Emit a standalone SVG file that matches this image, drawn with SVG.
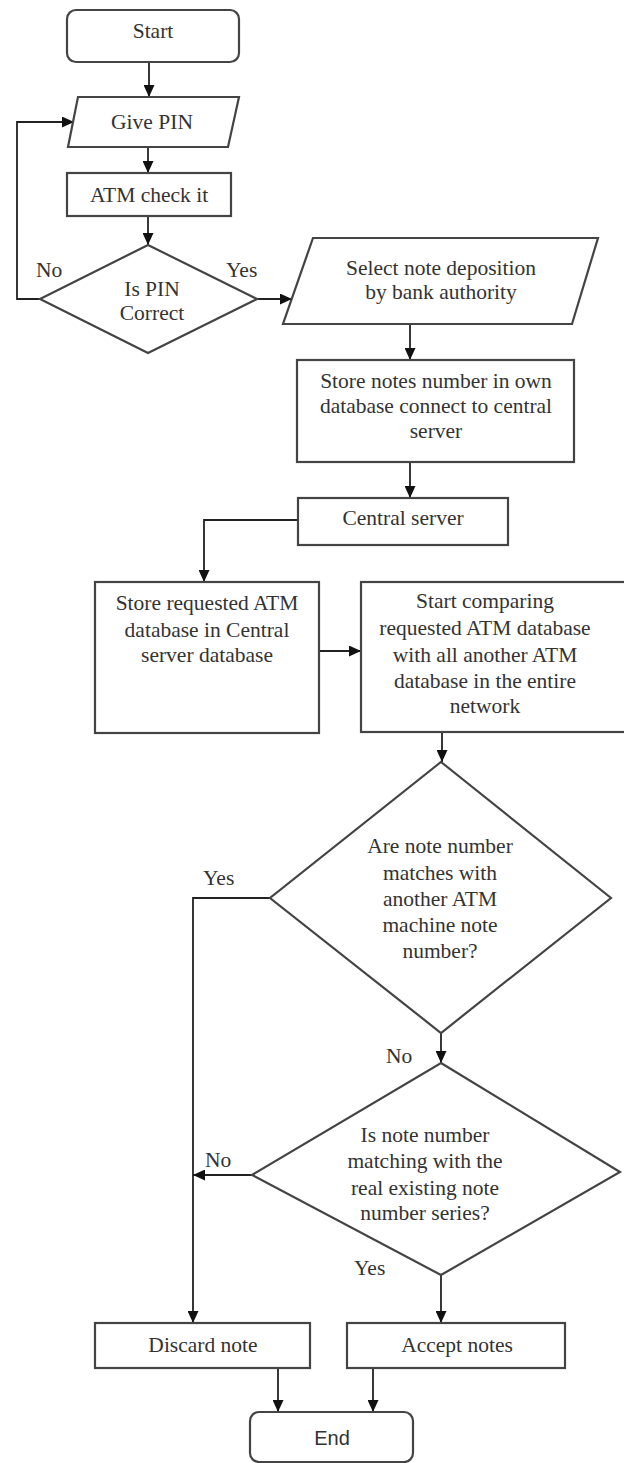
<svg xmlns="http://www.w3.org/2000/svg" width="624" height="1463" viewBox="0 0 624 1463">
  <defs>
    <marker id="arrow" markerUnits="userSpaceOnUse" markerWidth="13" markerHeight="11" refX="12" refY="5.5" orient="auto">
      <path d="M0,0 L12,5.5 L0,11 Z" fill="#111"/>
    </marker>
    <style>
      .shape { fill: #fff; stroke: #444; stroke-width: 2.2; }
      .edge { fill: none; stroke: #222; stroke-width: 1.8; }
      .arr { marker-end: url(#arrow); }
      .t { font-family: "Liberation Serif", "Times New Roman", serif; font-size: 21.5px; fill: #333; text-anchor: middle; }
      .lbl { font-family: "Liberation Serif", "Times New Roman", serif; font-size: 21.5px; fill: #333; }
      .sans { font-family: "Liberation Sans", Arial, sans-serif; font-size: 20px; fill: #333; text-anchor: middle; }
    </style>
  </defs>
  <rect width="624" height="1463" fill="#fff"/>

  <!-- connectors and their branch labels -->
  <g id="connectors">
    <path class="edge arr" d="M149,62 V97"/>
    <path class="edge arr" d="M148,147 V173"/>
    <path class="edge arr" d="M148,216 V245"/>
    <path class="edge arr" d="M40,299 H17 V122 H74"/>
    <path class="edge arr" d="M257,299 H292"/>
    <path class="edge arr" d="M410,324 V360"/>
    <path class="edge arr" d="M410,462 V498"/>
    <path class="edge arr" d="M298,520 H204 V582"/>
    <path class="edge arr" d="M319,651 H361"/>
    <path class="edge arr" d="M442,732 V762"/>
    <path class="edge arr" d="M270,898 H193 V1323"/>
    <path class="edge arr" d="M441,1033 V1063"/>
    <path class="edge arr" d="M252,1175 H193"/>
    <path class="edge arr" d="M441,1275 V1323"/>
    <path class="edge arr" d="M278,1368 V1412"/>
    <path class="edge arr" d="M373,1368 V1412"/>
    <text class="lbl" x="36" y="277">No</text>
    <text class="lbl" x="226" y="277">Yes</text>
    <text class="lbl" x="203" y="885">Yes</text>
    <text class="lbl" x="386" y="1063">No</text>
    <text class="lbl" x="205" y="1167">No</text>
    <text class="lbl" x="354" y="1275">Yes</text>
  </g>

  <g id="start">
    <rect class="shape" x="67" y="10" width="172" height="52" rx="9"/>
    <text class="t" x="153" y="38">Start</text>
  </g>

  <g id="give-pin">
    <polygon class="shape" points="78,97 239,97 228,147 68,147"/>
    <text class="t" x="152" y="129">Give PIN</text>
  </g>

  <g id="atm-check">
    <rect class="shape" x="67" y="173" width="164" height="43"/>
    <text class="t" x="149" y="202">ATM check it</text>
  </g>

  <g id="pin-correct">
    <polygon class="shape" points="148,245 257,299 148,353 40,299"/>
    <text class="t" x="152" y="296">Is PIN</text>
    <text class="t" x="152" y="320">Correct</text>
  </g>

  <g id="select-note">
    <polygon class="shape" points="313,238 598,238 572,324 283,324"/>
    <text class="t" x="441" y="275">Select note deposition</text>
    <text class="t" x="441" y="299">by bank authority</text>
  </g>

  <g id="store-notes">
    <rect class="shape" x="297" y="360" width="277" height="102"/>
    <text class="t" x="436" y="388">Store notes number in own</text>
    <text class="t" x="436" y="413">database connect to central</text>
    <text class="t" x="436" y="438">server</text>
  </g>

  <g id="central-server">
    <rect class="shape" x="298" y="498" width="210" height="47"/>
    <text class="t" x="403" y="525">Central server</text>
  </g>

  <g id="store-requested">
    <rect class="shape" x="95" y="582" width="224" height="151"/>
    <text class="t" x="207" y="610">Store requested ATM</text>
    <text class="t" x="207" y="637">database in Central</text>
    <text class="t" x="207" y="662">server database</text>
  </g>

  <g id="start-comparing">
    <rect class="shape" x="361" y="582" width="270" height="150"/>
    <text class="t" x="485" y="608">Start comparing</text>
    <text class="t" x="485" y="635">requested ATM database</text>
    <text class="t" x="485" y="662">with all another ATM</text>
    <text class="t" x="485" y="688">database in the entire</text>
    <text class="t" x="485" y="713">network</text>
  </g>

  <g id="note-matches">
    <polygon class="shape" points="441,762 611,898 441,1033 270,898"/>
    <text class="t" x="440" y="853">Are note number</text>
    <text class="t" x="440" y="880">matches with</text>
    <text class="t" x="440" y="906">another ATM</text>
    <text class="t" x="440" y="932">machine note</text>
    <text class="t" x="440" y="958">number?</text>
  </g>

  <g id="series-check">
    <polygon class="shape" points="441,1063 620,1172 441,1275 252,1175"/>
    <text class="t" x="425" y="1142">Is note number</text>
    <text class="t" x="425" y="1168">matching with the</text>
    <text class="t" x="425" y="1195">real existing note</text>
    <text class="t" x="425" y="1220">number series?</text>
  </g>

  <g id="discard-note">
    <rect class="shape" x="95" y="1323" width="215" height="45"/>
    <text class="t" x="203" y="1352">Discard note</text>
  </g>

  <g id="accept-notes">
    <rect class="shape" x="347" y="1323" width="218" height="45"/>
    <text class="t" x="457" y="1352">Accept notes</text>
  </g>

  <g id="end">
    <rect class="shape" x="250" y="1412" width="163" height="50" rx="9"/>
    <text class="sans" x="332" y="1445">End</text>
  </g>
</svg>
